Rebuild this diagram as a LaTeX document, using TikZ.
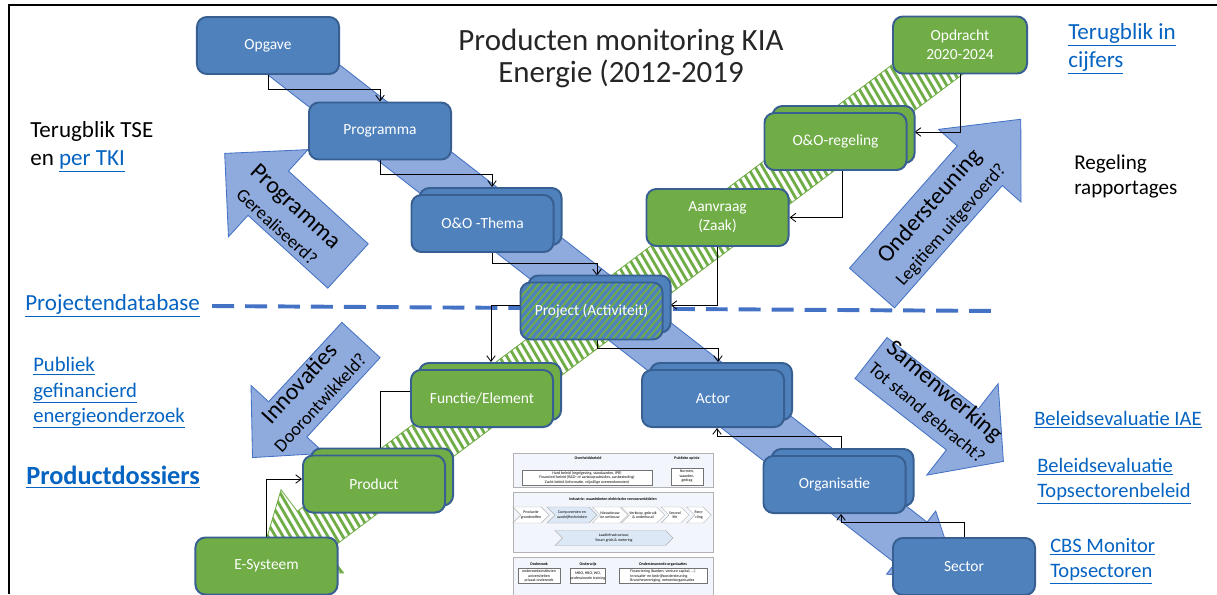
\documentclass[tikz,border=0pt]{standalone}
\usepackage{fontspec}
\setmainfont{Carlito}
\usetikzlibrary{arrows.meta,shadows,shapes.symbols,backgrounds}

\definecolor{boxblue}{HTML}{4F81BD}
\definecolor{boxedge}{HTML}{385F91}
\definecolor{boxgreen}{HTML}{70AD47}
\definecolor{bandblue}{HTML}{8FAADC}
\definecolor{bandedge}{HTML}{4472C4}
\definecolor{linkblue}{HTML}{0563C1}
\definecolor{panelfill}{HTML}{F2F5FB}
\definecolor{chevblue}{HTML}{DCE8F6}

\newcommand{\lnk}[1]{\textcolor{linkblue}{\underline{#1}}}
\newcommand{\subline}[1]{{\fontsize{13}{15}\selectfont #1}}
% outline of a block arrow: length, half shaft, half head, head length
\newcommand{\arrowpath}[4]{(0,-#2) -- (#1-#4,-#2) -- (#1-#4,-#3) -- (#1,0) -- (#1-#4,#3) -- (#1-#4,#2) -- (0,#2) -- cycle}

\tikzset{
  flowbox/.style={
    draw=boxedge, line width=1.4pt, rounded corners=7pt,
    minimum width=3.55cm, minimum height=1.425cm, inner sep=0pt,
    text=white, align=center, font=\fontsize{11}{13.5}\selectfont
  },
  bluebox/.style={flowbox, fill=boxblue},
  greenbox/.style={flowbox, fill=boxgreen},
  stacked/.style={
    copy shadow={shadow xshift=0.2cm, shadow yshift=0.175cm,
      fill=#1, draw=boxedge, line width=1.4pt}
  },
  conn/.style={line width=0.6pt, -{Straight Barb[length=4pt,width=6pt]}},
  bigarrow/.style={fill=bandblue, draw=bandedge, line width=0.6pt},
  hatchline/.style={draw=boxgreen, line width=2pt},
  dbline/.style={draw=bandedge, line width=2.8pt, dash pattern=on 15.6pt off 7.8pt},
  arrowtext/.style={align=center, inner sep=0pt, font=\fontsize{17}{19}\selectfont},
  sidetext/.style={anchor=west, align=left, inner sep=0pt},
  panel/.style={draw=black!30, fill=panelfill, line width=0.4pt},
  tinybox/.style={draw=black!55, fill=white, line width=0.3pt},
  tinytext/.style={align=center, inner sep=0pt, font=\fontsize{2.8}{3.2}\selectfont},
  tinyhead/.style={tinytext, font=\fontsize{2.8}{3.2}\selectfont\bfseries},
  chev/.style={signal, signal to=east, signal from=west, draw=black!30,
    line width=0.3pt, minimum height=0.4cm, inner sep=0pt, tinytext}
}

\begin{document}
\begin{tikzpicture}[x=0.025cm, y=-0.025cm]
  \useasboundingbox (0,0) rectangle (1217,594);
  \draw[line width=1.5pt] (9,594) -- (9,5) -- (1217,5);

  \node[align=center, font=\fontsize{22}{22.8}\selectfont, text=black!85] (title) at (621,58)
    {Producten monitoring KIA\\Energie (2012-2019};

  % chain of boxes
  \node[bluebox] (opgave) at (268,45.5) {Opgave};
  \node[bluebox] (programma) at (380,131) {Programma};
  \node[bluebox, stacked=boxblue] (thema) at (482.5,223.5) {O\&O -Thema};
  \node[bluebox, stacked=boxblue, path picture={
      \foreach \k in {-10,...,24}
        \draw[draw=boxgreen, line width=1.3pt]
          ([xshift=\k*5pt]path picture bounding box.south west) -- ++(50:3cm);
    }] (project) at (591.5,311) {Project (Activiteit)};
  \node[greenbox] (aanvraag) at (717.5,217.5) {Aanvraag\\(Zaak)};
  \node[greenbox, stacked=boxgreen] (regeling) at (835.5,141.5) {O\&O-regeling};
  \node[greenbox, minimum width=3.35cm] (opdracht) at (960,45) {Opdracht\\2020-2024};
  \node[greenbox, stacked=boxgreen] (functie) at (482,398.5) {Functie/Element};
  \node[greenbox, stacked=boxgreen] (product) at (374,484) {Product};
  \node[greenbox] (esysteem) at (266.5,566) {E-Systeem};
  \node[bluebox, stacked=boxblue] (actor) at (713,398.5) {Actor};
  \node[bluebox, stacked=boxblue] (organisatie) at (834.5,484.5) {Organisatie};
  \node[bluebox] (sector) at (964,566.5) {Sector};

  % texts on the block arrows
  \node[arrowtext, rotate=-42.4] (prgtxt) at (287,216) {Programma\\\subline{Gerealiseerd?}};
  \node[arrowtext, rotate=48.6] (ondtxt) at (940,215) {Ondersteuning\\\subline{Legitiem uitgevoerd?}};
  \node[arrowtext, rotate=47.3] (innotxt) at (309,392) {Innovaties\\\subline{Doorontwikkeld?}};
  \node[arrowtext, rotate=-40] (samtxt) at (936,402) {Samenwerking\\\subline{Tot stand gebracht?}};

  % side texts and links
  \node[sidetext, font=\fontsize{16.4}{20}\selectfont] (tse) at (30,147) {Terugblik TSE\\en \lnk{per TKI}};
  \node[sidetext, font=\fontsize{16.4}{20}\selectfont] (cijfers) at (1068,49) {\lnk{Terugblik in}\\\lnk{cijfers}};
  \node[sidetext, font=\fontsize{15}{17.8}\selectfont] (rapport) at (1074,176) {Regeling\\rapportages};
  \node[sidetext, font=\fontsize{16.4}{20}\selectfont] (projdb) at (25,306) {\lnk{Projectendatabase}};
  \node[sidetext, font=\fontsize{14.7}{17.8}\selectfont] (publiek) at (33,393)
    {\lnk{Publiek}\\\lnk{gefinancierd}\\\lnk{energieonderzoek}};
  \node[sidetext, font=\fontsize{18.7}{22}\selectfont\bfseries] (dossiers) at (26,477) {\lnk{Productdossiers}};
  \node[sidetext, font=\fontsize{14.6}{17.8}\selectfont] (iae) at (1034,420) {\lnk{Beleidsevaluatie IAE}};
  \node[sidetext, font=\fontsize{14.6}{17.8}\selectfont] (tsbeleid) at (1037,481)
    {\lnk{Beleidsevaluatie}\\\lnk{Topsectorenbeleid}};
  \node[sidetext, font=\fontsize{14.6}{17.8}\selectfont] (cbs) at (1050,561)
    {\lnk{CBS Monitor}\\\lnk{Topsectoren}};
  \coordinate (dbend) at (998,311);

  % thumbnail of the value chain figure
  \begin{scope}[shift={(513,453)}]
    \draw[panel] (0,0) rectangle (200,34);
    \node[tinyhead] (ovb) at (75,5) {Overheidsbeleid};
    \node[tinybox, tinytext, minimum width=3.25cm, minimum height=0.375cm] (ovbbox) at (74,24.5)
      {Hard beleid (regelgeving, standaarden, IPR)\\Financieel beleid (R\&D- of aankoopsubsidies, aanbesteding)\\Zacht beleid (informatie, vrijwillige overeenkomsten)};
    \node[tinyhead] (pub) at (174,5) {Publieke opinie};
    \node[tinybox, tinytext, minimum width=0.8cm, minimum height=0.425cm] (pubbox) at (174,23.5)
      {Normen,\\waarden,\\gedrag};

    \draw[panel] (0,39) rectangle (200,99);
    \node[tinyhead] (ind) at (100,46) {Industrie: waardeketen elektrische vervoersmiddelen};
    \node[chev, fill=white, minimum width=0.8cm] (c1) at (18,62) {Productie\\grondstoffen};
    \node[chev, fill=chevblue, minimum width=1.25cm] (c2) at (59,62) {Componenten en\\aandrijftechnieken};
    \node[chev, fill=white, minimum width=0.65cm] (c3) at (97,62) {Nieuwbouw\\en ombouw};
    \node[chev, fill=white, minimum width=1cm] (c4) at (130,62) {Verkoop, gebruik\\\& onderhoud};
    \node[chev, fill=white, minimum width=0.6cm] (c5) at (162,62) {Second\\life};
    \node[chev, fill=white, minimum width=0.6cm] (c6) at (186,62) {Recy-\\cling};
    \node[chev, fill=chevblue, minimum width=2.95cm, minimum height=0.375cm] (laad) at (101,85)
      {Laadinfrastructuur,\\Smart grids \& metering};

    \draw[panel] (0,104) rectangle (200,150);
    \node[tinyhead] (ondz) at (26,111) {Onderzoek};
    \node[tinyhead] (ondw) at (75,111) {Onderwijs};
    \node[tinyhead] (onds) at (150,111) {Ondersteunende organisaties};
    \node[tinybox, tinytext, minimum width=1.05cm, minimum height=0.375cm] (ondzbox) at (26,123)
      {onderzoeksinstituten\\universiteiten\\privaat onderzoek};
    \node[tinybox, tinytext, minimum width=0.85cm, minimum height=0.375cm] (ondwbox) at (75,123)
      {MBO, HBO, WO,\\professionele training};
    \node[tinybox, tinytext, align=left, minimum width=2.2cm, minimum height=0.375cm] (ondsbox) at (150,123)
      {Financiering (banken, venture capital, ...)\\Innovatie- en bedrijfsondersteuning\\Branchevereniging, netwerkorganisaties};
  \end{scope}

  \begin{scope}[on background layer]
    % blue band from Opgave down to Sector
    \begin{scope}[shift={(268,42)}, rotate=-37.9]
      \draw[bigarrow] \arrowpath{875}{26}{40}{60};
    \end{scope}
    % green hatched band from Opdracht down to E-Systeem
    \begin{scope}[shift={(960,45)}, rotate=216.9]
      \fill[white] \arrowpath{880}{25}{52}{70};
      \begin{scope}
        \clip \arrowpath{880}{25}{52}{70};
        \foreach \u in {0,6.5,...,900}
          \draw[hatchline] (\u,-60) -- (\u-14,60);
      \end{scope}
      \draw[draw=boxgreen, line width=0.6pt] \arrowpath{880}{25}{52}{70};
    \end{scope}

    % block arrows
    \begin{scope}[shift={(348,266)}, rotate=137.6]
      \draw[bigarrow] \arrowpath{167}{30}{59}{59};
    \end{scope}
    \begin{scope}[shift={(872,288)}, rotate=48.6]
      \draw[bigarrow] \arrowpath{225}{30}{55}{62};
    \end{scope}
    \begin{scope}[shift={(361,340)}, rotate=227.3]
      \draw[bigarrow] \arrowpath{160}{26}{50}{52};
    \end{scope}
    \begin{scope}[shift={(871,358)}, rotate=-38]
      \draw[bigarrow] \arrowpath{168}{26}{58}{52};
    \end{scope}

    \draw[dbline] ([xshift=0.3cm]projdb.east) -- (dbend);

    % connectors
    \draw[conn] (opgave.south) -- ++(0,14) -| (programma.north);
    \draw[conn] (programma.south) -- ++(0,14) -| ([shift={(9.5,-7)}]thema.north);
    \draw[conn] ([shift={(9.5,0)}]thema.south) -- ++(0,10) -| ([shift={(5.5,-6)}]project.north);
    \draw[conn] (opdracht.south) |- ([shift={(7,-9.5)}]regeling.east);
    \draw[conn] ([shift={(6.5,0)}]regeling.south) |- (aanvraag.east);
    \draw[conn] (aanvraag.south) |- ([shift={(7,-6)}]project.east);
    \draw[conn] ([shift={(0,-6)}]project.west) -| ([shift={(9,-7)}]functie.north);
    \draw[conn] ([shift={(5.5,0)}]project.south) -- ++(0,8) -| ([shift={(5,-7)}]actor.north);
    \draw[conn] ([shift={(6.5,-7)}]organisatie.north) -- ++(0,-12) -| ([shift={(4,0)}]actor.south);
    \draw[conn] (sector.north) -- ++(0,-15) -| ([shift={(6.5,0)}]organisatie.south);
    \draw[conn] ([shift={(0,-7.5)}]functie.west) -| ([shift={(6,0)}]product.north);
    \draw[conn] (esysteem.north) |- ([shift={(0,-5)}]product.west);
  \end{scope}
\end{tikzpicture}
\end{document}
